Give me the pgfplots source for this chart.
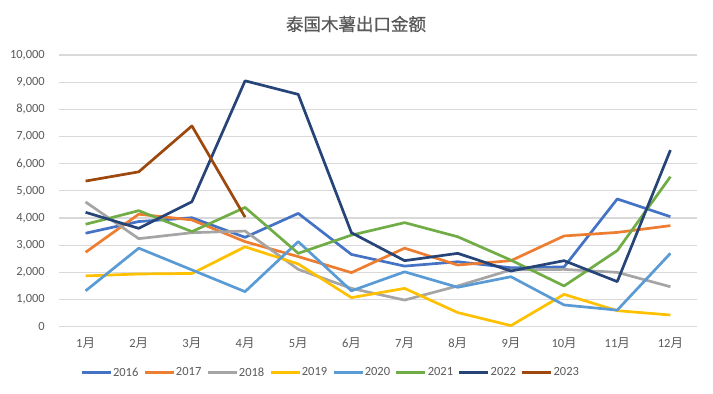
\documentclass[border=0pt]{standalone}
\usepackage{pgfplots}
\pgfplotsset{compat=1.18}
\usepackage{fontspec}
\setmainfont{Carlito}
\newfontfamily\cjk{Noto Sans CJK SC}
\newfontfamily\cjkb[FakeBold=0.8]{Noto Sans CJK SC}
\definecolor{txt}{HTML}{595959}
\definecolor{gridc}{HTML}{D9D9D9}
\definecolor{c16}{HTML}{4472C4}
\definecolor{c17}{HTML}{ED7D31}
\definecolor{c18}{HTML}{A5A5A5}
\definecolor{c19}{HTML}{FFC000}
\definecolor{c20}{HTML}{5B9BD5}
\definecolor{c21}{HTML}{70AD47}
\definecolor{c22}{HTML}{264478}
\definecolor{c23}{HTML}{9E480E}
\begin{document}
\begin{tikzpicture}
\path[use as bounding box] (0,0) rectangle (713pt,394pt);
\node[text=txt, font=\cjkb\fontsize{17.5}{20}\selectfont] at (356pt,370pt) {泰国木薯出口金额};
\begin{axis}[
  at={(59pt,67.3pt)}, anchor=south west,
  scale only axis, width=638pt, height=271.7pt,
  xmin=-0.5, xmax=11.5, ymin=0, ymax=10000,
  xtick={0,...,11},
  xticklabels={1{\cjk 月},2{\cjk 月},3{\cjk 月},4{\cjk 月},5{\cjk 月},6{\cjk 月},7{\cjk 月},8{\cjk 月},9{\cjk 月},10{\cjk 月},11{\cjk 月},12{\cjk 月}},
  ytick={0,1000,...,10000},
  /pgf/number format/.cd, 1000 sep={,}, assume math mode=true, /pgfplots/.cd,
  scaled y ticks=false,
  ymajorgrids, major grid style={gridc, line width=1.3pt},
  axis line style={draw=none},
  major tick length=0pt,
  tick label style={text=txt, font=\fontsize{12.5}{14}\selectfont, inner sep=0pt},
  yticklabel style={anchor=east, xshift=-14pt},
  xticklabel style={anchor=base, yshift=-20.5pt},
  every axis plot/.append style={line width=2.7pt, mark=none, line join=round},
  legend columns=8,
  legend style={at={(axis description cs:0.033,-0.169)}, anchor=west, draw=none, fill=none,
    font=\fontsize{12.5}{14}\selectfont, text=txt, inner sep=0pt,
    nodes={inner sep=0.8pt},
    /tikz/every even column/.append style={column sep=4pt}},
  legend image code/.code={\draw[#1, line width=3pt] (0pt,0pt) -- (29pt,0pt);},
]
\addplot[c16] coordinates {(0,3440) (1,3870) (2,4010) (3,3290) (4,4170) (5,2660) (6,2230) (7,2390) (8,2170) (9,2200) (10,4700) (11,4050)};
\addplot[c17] coordinates {(0,2740) (1,4140) (2,3930) (3,3130) (4,2580) (5,1990) (6,2890) (7,2270) (8,2430) (9,3340) (10,3470) (11,3720)};
\addplot[c18] coordinates {(0,4590) (1,3240) (2,3460) (3,3520) (4,2110) (5,1410) (6,980) (7,1500) (8,2090) (9,2110) (10,2000) (11,1470)};
\addplot[c19] coordinates {(0,1870) (1,1940) (2,1960) (3,2940) (4,2310) (5,1070) (6,1410) (7,520) (8,40) (9,1190) (10,590) (11,430)};
\addplot[c20] coordinates {(0,1320) (1,2890) (2,2090) (3,1290) (4,3130) (5,1320) (6,2020) (7,1450) (8,1840) (9,800) (10,610) (11,2700)};
\addplot[c21] coordinates {(0,3770) (1,4270) (2,3500) (3,4390) (4,2700) (5,3370) (6,3830) (7,3310) (8,2450) (9,1500) (10,2800) (11,5520)};
\addplot[c22] coordinates {(0,4210) (1,3620) (2,4600) (3,9050) (4,8550) (5,3460) (6,2430) (7,2700) (8,2050) (9,2430) (10,1660) (11,6500)};
\addplot[c23] coordinates {(0,5360) (1,5700) (2,7390) (3,4030)};
\legend{2016,2017,2018,2019,2020,2021,2022,2023}
\end{axis}
\end{tikzpicture}
\end{document}
